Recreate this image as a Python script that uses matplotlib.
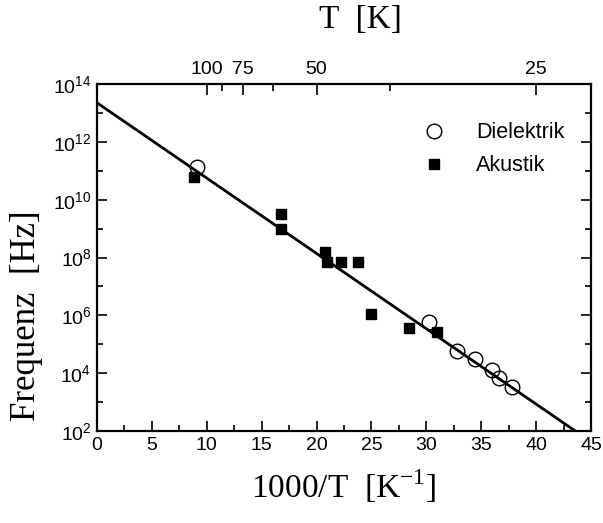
import numpy as np
import matplotlib
matplotlib.use("Agg")
import matplotlib.pyplot as plt
from matplotlib.ticker import FixedLocator, NullFormatter

# ---- data ----
diel_x = [9.08, 30.26, 32.76, 34.43, 35.95, 36.61, 37.82]
diel_f = [1.4e11, 5.8e5, 6.0e4, 3.2e4, 1.3e4, 6.6e3, 3.4e3]

akus_x = [8.83, 16.76, 16.76, 20.77, 20.92, 22.22, 23.80, 24.93, 28.42, 31.00]
akus_f = [6.0e10, 3.2e9, 9.8e8, 1.6e8, 7.2e7, 6.8e7, 7.1e7, 1.15e6, 3.6e5, 2.75e5]

fit_log_intercept = 13.35
fit_log_slope = -0.2605
fit_x = np.array([0.0, 45.0])

top_T_major = [100, 75, 50, 25]
top_T_minor = [87.5, 62.5, 37.5]

x_ticks = [0, 5, 10, 15, 20, 25, 30, 35, 40, 45]
y_major = [1e2, 1e4, 1e6, 1e8, 1e10, 1e12, 1e14]
y_minor = [1e3, 1e5, 1e7, 1e9, 1e11, 1e13]

plt.rcParams['font.family'] = ['Liberation Sans', 'DejaVu Sans']
plt.rcParams['mathtext.fontset'] = 'custom'
plt.rcParams['mathtext.rm'] = 'Liberation Sans'
plt.rcParams['mathtext.it'] = 'Liberation Sans'

fig = plt.figure(figsize=(6.03, 5.23), dpi=100)
ax = fig.add_axes([97/603, 1-431/523, (591-97)/603, (431-84)/523])

fit_y = 10 ** (fit_log_intercept + fit_log_slope * fit_x)
ax.plot(fit_x, fit_y, color='black', lw=2.0, zorder=2)
ax.plot(akus_x, akus_f, ls='none', marker='s', ms=7.5, mfc='black', mec='black', zorder=3, label='Akustik')
ax.plot(diel_x, diel_f, ls='none', marker='o', ms=10.5, mfc='none', mec='black', mew=1.0, zorder=4, label='Dielektrik')

ax.set_yscale('log')
ax.set_xlim(0, 45)
ax.set_ylim(1e2, 1e14)

ax.yaxis.set_major_locator(FixedLocator(y_major))
ax.yaxis.set_minor_locator(FixedLocator(y_minor))
ax.yaxis.set_minor_formatter(NullFormatter())
ax.set_yticklabels([r'$10^{%d}$' % int(np.log10(v)) for v in y_major])
ax.set_xticks(x_ticks)
ax.set_xticklabels([str(v) for v in x_ticks])
ax.xaxis.set_minor_locator(FixedLocator([2.5 + 5 * i for i in range(9)]))

ax.tick_params(axis='both', which='major', direction='in', length=7, width=1.2, labelsize=14, pad=4)
ax.tick_params(axis='both', which='minor', direction='in', length=4, width=1.2)
ax.tick_params(axis='y', which='both', right=True, labelright=False)
ax.tick_params(axis='x', which='both', top=True, labeltop=False)
for s in ax.spines.values():
    s.set_linewidth(1.6)

# top temperature axis
ax2 = ax.twiny()
ax2.set_xlim(ax.get_xlim())
ax2.set_xticks([1000.0 / t for t in top_T_major])
ax2.set_xticklabels([str(t) for t in top_T_major])
ax2.xaxis.set_minor_locator(FixedLocator([1000.0 / t for t in top_T_minor]))
ax2.tick_params(axis='x', which='major', direction='in', length=8, width=1.2, labelsize=14, pad=4)
ax2.tick_params(axis='x', which='minor', direction='in', length=5, width=1.2)
for s in ax2.spines.values():
    s.set_visible(False)

serif = ['Liberation Serif', 'DejaVu Serif']
fig.text(344/603, 1-486/523, r'1000/T  [K$^{\mathregular{-1}}$]', fontsize=24, family=serif,
         ha='center', va='center')
fig.text(27/603, 1-316/523, 'Frequenz  [Hz]', fontsize=25, family=serif,
         ha='center', va='center', rotation=90)
fig.text(360/603, 1-20/523, 'T  [K]', fontsize=24, family=serif, ha='center', va='center')

h, l = ax.get_legend_handles_labels()
ax.legend(h[::-1], l[::-1], loc='upper right', bbox_to_anchor=(0.985, 0.945), frameon=False,
          fontsize=15.5, handletextpad=1.3, labelspacing=0.55, handlelength=1.3)

fig.savefig('out.png', dpi=100)
